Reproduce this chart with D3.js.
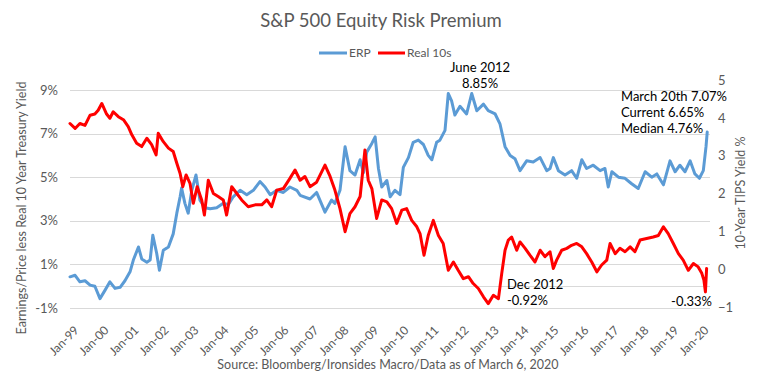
<!DOCTYPE html>
<html>
<head>
<meta charset="utf-8">
<script src="https://cdn.jsdelivr.net/npm/d3@7"></script>
<style>
  html, body { margin: 0; padding: 0; background: #fff; }
  svg { display: block; font-family: Lato, "Open Sans", sans-serif; }
</style>
</head>
<body>
<svg id="chart" width="763" height="378"></svg>
<script>
// ---------- DATA ----------
const title = "S&P 500 Equity Risk Premium";
const sourceNote = "Source: Bloomberg/Ironsides Macro/Data as of March 6, 2020";
const seriesNames = ["ERP", "Real 10s"];

// ERP (left axis, %), dates as decimal years
const erpYears = [
  1999.00,1999.17,1999.33,1999.50,1999.67,1999.83,
  2000.00,2000.17,2000.33,2000.50,2000.67,2000.83,
  2001.00,2001.11,2001.28,2001.39,2001.56,2001.67,2001.76,2001.89,2001.98,
  2002.11,2002.28,2002.44,2002.56,2002.67,2002.72,2002.83,2002.94,
  2003.06,2003.20,2003.33,2003.50,2003.67,2003.89,
  2004.11,2004.28,2004.44,2004.67,2004.89,
  2005.11,2005.33,2005.50,2005.67,2005.89,
  2006.11,2006.33,2006.56,2006.67,
  2007.00,2007.22,2007.50,2007.72,2007.83,
  2008.00,2008.17,2008.33,2008.50,2008.67,2008.78,2008.89,
  2009.06,2009.17,2009.28,2009.39,2009.56,2009.67,2009.83,
  2010.00,2010.11,2010.28,2010.44,2010.61,2010.78,2010.94,
  2011.06,2011.22,2011.33,2011.50,2011.61,2011.72,2011.83,
  2012.00,2012.22,2012.39,2012.56,2012.78,2012.94,
  2013.17,2013.33,2013.50,2013.67,2013.83,
  2014.00,2014.22,2014.44,2014.67,2014.89,
  2015.00,2015.11,2015.28,2015.50,2015.72,2015.89,
  2016.06,2016.22,2016.44,2016.67,2016.83,2016.94,
  2017.06,2017.28,2017.50,2017.72,2017.94,
  2018.17,2018.39,2018.56,2018.78,
  2019.00,2019.17,2019.33,2019.50,2019.67,2019.83,2019.98,
  2020.11,2020.20,2020.24
];
const erpValues = [
  0.43,0.5,0.2,0.25,0.05,0.0,
  -0.57,-0.18,0.2,-0.1,-0.05,0.25,
  0.66,1.2,1.8,1.25,1.1,1.2,2.34,1.5,0.73,
  1.65,1.8,2.4,3.35,4.1,4.5,3.8,3.35,
  4.4,5.1,3.95,3.6,3.55,3.6,
  3.8,3.75,4.1,4.4,4.2,
  4.4,4.8,4.55,4.2,4.4,
  4.3,4.55,4.4,4.17,
  4.0,4.3,3.4,3.95,3.8,
  4.4,6.4,5.3,5.1,5.8,5.2,6.15,
  6.55,6.85,5.4,4.55,4.85,4.1,4.4,
  4.2,5.45,5.9,6.6,6.7,6.5,6.0,
  5.8,6.6,6.7,7.15,8.84,8.5,7.85,
  8.25,7.9,8.84,8.05,8.35,8.05,
  7.9,7.45,6.4,6.0,5.85,
  5.3,5.75,5.7,5.9,5.3,
  5.4,5.9,5.3,5.1,5.3,4.95,
  5.8,5.4,5.55,5.3,5.4,4.55,
  5.25,5.0,4.95,4.7,4.48,
  5.25,5.0,5.15,4.65,
  5.75,5.25,5.55,5.25,5.75,5.15,4.95,
  5.3,6.4,7.07
];

// Real 10-year TIPS yield (right axis), dates as decimal years
const realYears = [
  1999.00,1999.17,1999.33,1999.50,1999.67,1999.83,1999.94,
  2000.06,2000.22,2000.33,2000.44,2000.61,2000.78,2000.94,
  2001.06,2001.22,2001.39,2001.56,2001.72,2001.87,2001.94,
  2002.11,2002.28,2002.44,2002.56,2002.67,2002.76,2002.87,
  2003.00,2003.11,2003.24,2003.39,2003.48,2003.61,2003.78,2003.94,
  2004.11,2004.22,2004.39,2004.56,2004.72,2004.94,
  2005.17,2005.39,2005.56,2005.72,2005.89,
  2006.11,2006.33,2006.50,2006.67,2006.83,
  2007.00,2007.22,2007.50,2007.67,2007.83,
  2008.00,2008.17,2008.33,2008.50,2008.67,2008.83,2008.94,
  2009.06,2009.22,2009.39,2009.56,2009.72,2009.89,
  2010.06,2010.22,2010.39,2010.56,2010.67,2010.80,2010.94,
  2011.11,2011.28,2011.44,2011.61,2011.78,2011.94,
  2012.11,2012.28,2012.44,2012.61,2012.78,2012.94,
  2013.11,2013.28,2013.39,2013.50,2013.61,2013.72,2013.89,
  2014.00,2014.17,2014.33,2014.50,2014.67,2014.83,
  2015.00,2015.11,2015.22,2015.39,2015.56,2015.72,2015.89,
  2016.06,2016.22,2016.39,2016.56,2016.72,2016.89,
  2017.00,2017.17,2017.33,2017.50,2017.67,2017.83,
  2018.00,2018.22,2018.44,2018.61,2018.78,2018.94,
  2019.11,2019.28,2019.44,2019.61,2019.78,2019.94,
  2020.06,2020.13,2020.18,2020.22
];
const realValues = [
  3.85,3.72,3.85,3.8,4.07,4.1,4.2,
  4.38,4.1,3.99,4.16,4.03,3.95,3.77,
  3.55,3.33,3.24,3.46,3.29,3.02,3.59,
  3.37,3.2,3.11,2.8,2.53,2.18,2.49,
  2.27,1.74,2.18,1.83,1.43,2.35,2.0,1.92,
  1.83,1.43,2.18,2.0,1.83,1.65,
  1.7,1.7,1.83,1.65,2.09,
  2.13,2.4,2.62,2.35,2.45,
  2.18,2.3,2.75,2.45,2.09,
  1.6,0.99,1.47,1.65,1.92,3.15,2.35,
  2.13,1.34,1.83,1.78,1.6,1.21,
  1.56,1.6,1.29,1.12,0.93,0.37,0.89,
  1.29,0.89,0.68,-0.03,0.19,-0.03,
  -0.25,-0.2,-0.38,-0.51,-0.73,-0.91,
  -0.69,-0.78,-0.11,0.5,0.77,0.85,0.5,
  0.72,0.55,0.37,0.19,0.5,0.33,
  0.46,0.02,0.24,0.5,0.55,0.63,0.68,
  0.59,0.41,0.19,-0.07,0.11,0.24,
  0.68,0.41,0.55,0.46,0.59,0.46,
  0.77,0.81,0.85,0.89,1.12,0.94,
  0.68,0.41,0.24,-0.03,0.15,0.06,
  -0.11,-0.29,-0.6,0.02
];

// Tick values / labels
const xTickYears = [1999,2000,2001,2002,2003,2004,2005,2006,2007,2008,2009,2010,2011,2012,2013,2014,2015,2016,2017,2018,2019,2020];
const leftTicks = [-1, 1, 3, 5, 7, 9];
const leftGrid = [-1, 0, 1, 3, 5, 7, 9];
const rightTicks = [-1, 0, 1, 2, 3, 4, 5];

// Annotations (text)
const annJune = ["June 2012", "8.85%"];
const annMarch = ["March 20th 7.07%", "Current 6.65%", "Median 4.76%"];
const annDec = ["Dec 2012", "-0.92%"];
const annEnd = ["-0.33%"];

// ---------- DRAWING ----------
const toDate = t => {
  const y = Math.floor(t);
  const s = Date.UTC(y, 0, 1), e = Date.UTC(y + 1, 0, 1);
  return new Date(s + (t - y) * (e - s));
};
const erp = erpYears.map((t, i) => ({ d: toDate(t), v: erpValues[i] }));
const real = realYears.map((t, i) => ({ d: toDate(t), v: realValues[i] }));

const svg = d3.select("#chart");
const W = 763, H = 378;
const TXT = "#595959";
svg.append("rect").attr("width", W).attr("height", H).attr("fill", "#fff");

const x = d3.scaleUtc().domain([toDate(1999), toDate(2020)]).range([70, 700]);
const yL = d3.scaleLinear().domain([-1, 9]).range([308, 90]);
const yR = d3.scaleLinear().domain([-1, 5]).range([307, 80]);
const plotLeft = 70, plotRight = 710;

// Gridlines
svg.append("g").selectAll("line").data(leftGrid).join("line")
  .attr("x1", plotLeft).attr("x2", plotRight)
  .attr("y1", d => Math.round(yL(d)) + 0.5).attr("y2", d => Math.round(yL(d)) + 0.5)
  .attr("stroke", "#d9d9d9").attr("stroke-width", 1);

// Left axis
const gL = svg.append("g").attr("transform", `translate(${plotLeft},0)`)
  .call(d3.axisLeft(yL).tickValues(leftTicks).tickSize(0).tickPadding(12)
    .tickFormat(d => d + "%"));
gL.select(".domain").remove();
gL.selectAll("text").attr("fill", TXT).attr("font-size", 13).attr("font-family", "Lato");

// Right axis
const gR = svg.append("g").attr("transform", `translate(${plotRight},0)`)
  .call(d3.axisRight(yR).tickValues(rightTicks).tickSize(0).tickPadding(8)
    .tickFormat(d3.format("d")));
gR.select(".domain").remove();
gR.selectAll("text").attr("fill", TXT).attr("font-size", 13).attr("font-family", "Lato");

// Bottom axis
const gX = svg.append("g").attr("transform", `translate(0,${yL(-1)})`)
  .call(d3.axisBottom(x).tickValues(xTickYears.map(toDate)).tickSize(0)
    .tickFormat(d3.utcFormat("Jan-%y")));
gX.select(".domain").remove();
gX.selectAll("text")
  .attr("x", 0).attr("y", 0).attr("dy", 0)
  .attr("text-anchor", "end")
  .attr("transform", "translate(9,23) rotate(-45)")
  .attr("fill", TXT).attr("font-size", 12).attr("font-family", "Lato");

// Lines
const lineL = d3.line().x(d => x(d.d)).y(d => yL(d.v));
const lineR = d3.line().x(d => x(d.d)).y(d => yR(d.v));
svg.append("path").datum(erp).attr("d", lineL)
  .attr("fill", "none").attr("stroke", "#5b9bd5").attr("stroke-width", 3)
  .attr("stroke-linejoin", "round").attr("stroke-linecap", "round");
svg.append("path").datum(real).attr("d", lineR)
  .attr("fill", "none").attr("stroke", "#ff0000").attr("stroke-width", 3)
  .attr("stroke-linejoin", "round").attr("stroke-linecap", "round");

// Title
svg.append("text").attr("x", 381).attr("y", 27).attr("text-anchor", "middle")
  .attr("fill", TXT).attr("font-size", 18.5).text(title);

// Legend
const legend = [
  { name: seriesNames[0], color: "#5b9bd5", x1: 319, x2: 347, tx: 349 },
  { name: seriesNames[1], color: "#ff0000", x1: 378, x2: 405, tx: 407 }
];
const lg = svg.append("g");
legend.forEach(l => {
  lg.append("line").attr("x1", l.x1).attr("x2", l.x2).attr("y1", 53).attr("y2", 53)
    .attr("stroke", l.color).attr("stroke-width", 3);
  lg.append("text").attr("x", l.tx).attr("y", 57).attr("fill", TXT)
    .attr("font-size", 12).text(l.name);
});

// Axis titles
svg.append("text").attr("transform", "translate(26,208) rotate(-90)")
  .attr("text-anchor", "middle").attr("fill", TXT).attr("font-size", 12.5)
  .text("Earnings/Price less Real 10 Year Treasury Yield");
svg.append("text").attr("transform", "translate(745,193) rotate(-90)")
  .attr("text-anchor", "middle").attr("fill", TXT).attr("font-size", 12.5)
  .text("10-Year TIPS Yield %");

// Source
svg.append("text").attr("x", 388).attr("y", 369).attr("text-anchor", "middle")
  .attr("fill", TXT).attr("font-size", 12.5).text(sourceNote);

// Annotations
const ann = svg.append("g").attr("fill", "#000").attr("font-size", 13);
annJune.forEach((t, i) => ann.append("text").attr("x", 480).attr("y", 72 + i * 16)
  .attr("text-anchor", "middle").text(t));
annMarch.forEach((t, i) => ann.append("text").attr("x", 621).attr("y", 101 + i * 16).text(t));
annDec.forEach((t, i) => ann.append("text").attr("x", 507).attr("y", 289 + i * 16).text(t));
annEnd.forEach((t, i) => ann.append("text").attr("x", 712).attr("y", 306)
  .attr("text-anchor", "end").text(t));
</script>
</body>
</html>
